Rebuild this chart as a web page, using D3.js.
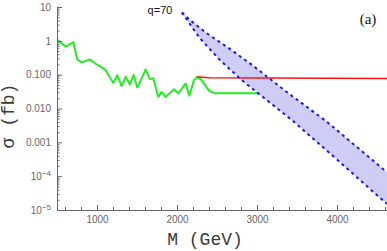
<!DOCTYPE html>
<html>
<head>
<meta charset="utf-8">
<script src="https://cdn.jsdelivr.net/npm/d3@7"></script>
<style>
  body { margin: 0; background: #fff; }
  .axis path, .axis line { stroke: #666; }
  .axis text { fill: #666; font-family: "Liberation Sans", Arial, sans-serif; font-size: 10px; }
</style>
</head>
<body>
<svg id="viz"></svg>
<script>
// ----------------------- DATA

// green curve
const greenMass = [500, 612, 704, 754, 808, 912, 996, 1100, 1204, 1254, 1308, 1358, 1412, 1458,
  1504, 1558, 1608, 1662, 1704, 1767, 1808, 1858, 1962, 2017, 2108, 2154, 2212, 2254,
  2308, 2350, 2404, 2475, 3016];
const greenSigma = [1.1, 0.67, 0.92, 0.28, 0.23, 0.28, 0.20, 0.144, 0.057, 0.097, 0.046, 0.087, 0.051, 0.098,
  0.042, 0.078, 0.144, 0.074, 0.078, 0.022, 0.031, 0.022, 0.037, 0.028, 0.055, 0.024, 0.069, 0.087,
  0.069, 0.049, 0.033, 0.028, 0.028];

// red curve
const redMass = [2254, 2400, 4625];
const redSigma = [0.087, 0.081, 0.077];

// blue band, q = 70
const bandUpperMass = [2062, 2162, 2371, 2621, 2912, 3412, 3871, 4625];
const bandUpperSigma = [6.9, 4.1, 1.67, 0.67, 0.216, 0.026, 0.0041, 1.3e-4];
const bandLowerMass = [2062, 2184, 2287, 2537, 2809, 2912, 3434, 4000, 4625];
const bandLowerSigma = [6.9, 2.6, 1.19, 0.27, 0.069, 0.044, 0.0046, 3.1e-4, 1.5e-5];

// ticks
const xTickValues = [1000, 2000, 3000, 4000];
const yTickValues = [10, 1, 0.1, 0.01, 0.001, 1e-4, 1e-5];
const yTickLabels = ['10', '1', '0.100', '0.010', '0.001', '10^-4', '10^-5'];

// ----------------------- SETTINGS
const W = 387, H = 251;
const margin = { top: 7, right: 0, bottom: 41, left: 57 },
  width = W - margin.left - margin.right,
  height = H - margin.top - margin.bottom;

// ----------------------- SCALES
const x = d3.scaleLinear().domain([500, 4625]).range([0, width]);
const y = d3.scaleLog().domain([1e-5, 10]).range([height, 0]);

const svg = d3.select('#viz').attr('width', W).attr('height', H);

svg.append('defs').append('clipPath').attr('id', 'clip')
  .append('rect').attr('width', width).attr('height', height + 1);

const chart = svg.append('g')
  .attr('transform', `translate(${margin.left}, ${margin.top})`);

const plot = chart.append('g').attr('clip-path', 'url(#clip)');

const zip = (ms, ss) => ms.map((m, i) => [m, ss[i]]);
const line = d3.line().x(d => x(d[0])).y(d => y(d[1]));

// band fill
const bandPoly = zip(bandUpperMass, bandUpperSigma)
  .concat(zip(bandLowerMass, bandLowerSigma).reverse());
plot.append('path')
  .attr('d', line(bandPoly) + 'Z')
  .attr('fill', '#cdcdf6')
  .attr('stroke', 'none');

// green
plot.append('path')
  .attr('d', line(zip(greenMass, greenSigma)))
  .attr('fill', 'none')
  .attr('stroke', '#22ee22')
  .attr('stroke-width', 2)
  .attr('stroke-linejoin', 'round');

// red
plot.append('path')
  .attr('d', line(zip(redMass, redSigma)))
  .attr('fill', 'none')
  .attr('stroke', '#ff1010')
  .attr('stroke-width', 1.6);

// band edges, dashed
[zip(bandUpperMass, bandUpperSigma), zip(bandLowerMass, bandLowerSigma)].forEach(pts => {
  plot.append('path')
    .attr('d', line(pts))
    .attr('fill', 'none')
    .attr('stroke', '#1a1ae6')
    .attr('stroke-width', 2)
    .attr('stroke-dasharray', '3,3.5');
});

// ----------------------- AXES
const xMinor = d3.range(600, 4625, 200).filter(v => v % 1000 !== 0);
chart.append('g')
  .attr('class', 'axis')
  .attr('transform', `translate(0, ${height})`)
  .call(d3.axisBottom(x).tickValues(xMinor).tickSize(-3).tickFormat(''))
  .call(g => g.select('.domain').remove());

chart.append('g')
  .attr('class', 'axis')
  .attr('transform', `translate(0, ${height})`)
  .call(d3.axisBottom(x).tickValues(xTickValues).tickSizeInner(-5).tickSizeOuter(0).tickPadding(6)
    .tickFormat(d3.format('d')));

const yMinor = [];
for (let e = -5; e < 1; e++) {
  for (let k = 2; k <= 9; k++) yMinor.push(k * Math.pow(10, e));
}
chart.append('g')
  .attr('class', 'axis')
  .call(d3.axisLeft(y).tickValues(yMinor).tickSize(-2.5).tickFormat(''))
  .call(g => g.select('.domain').remove());

const yAxis = chart.append('g')
  .attr('class', 'axis')
  .call(d3.axisLeft(y).tickValues(yTickValues).tickSizeInner(-5).tickSizeOuter(0).tickPadding(6)
    .tickFormat((d, i) => ''));

// tick labels with superscripts
yAxis.selectAll('.tick text').each(function (d, i) {
  const t = d3.select(this);
  const lab = yTickLabels[i];
  if (lab.includes('^')) {
    const [base, exp] = lab.split('^');
    t.append('tspan').text(base);
    t.append('tspan').attr('dy', '-0.5em').attr('font-size', '8px').text(exp.replace('-', '\u2212'));
  } else {
    t.text(lab);
  }
});

// ----------------------- LABELS
svg.append('text')
  .attr('x', 205).attr('y', 245)
  .attr('text-anchor', 'middle')
  .attr('font-family', '"Liberation Mono", "Courier New", monospace')
  .attr('font-size', 18)
  .attr('fill', '#3a3a3a')
  .text('M (GeV)');

svg.append('text')
  .attr('transform', 'translate(14, 116) rotate(-90)')
  .attr('text-anchor', 'middle')
  .attr('font-family', '"Liberation Mono", "Courier New", monospace')
  .attr('font-size', 18)
  .attr('fill', '#3a3a3a')
  .text('σ (fb)');

svg.append('text')
  .attr('x', 160).attr('y', 14)
  .attr('text-anchor', 'middle')
  .attr('font-family', '"Liberation Sans", Arial, sans-serif')
  .attr('font-size', 11)
  .attr('fill', '#111')
  .text('q=70');

svg.append('text')
  .attr('x', 368).attr('y', 24)
  .attr('text-anchor', 'middle')
  .attr('font-family', '"Liberation Serif", "Times New Roman", serif')
  .attr('font-size', 15)
  .attr('fill', '#111')
  .text('(a)');
</script>
</body>
</html>
